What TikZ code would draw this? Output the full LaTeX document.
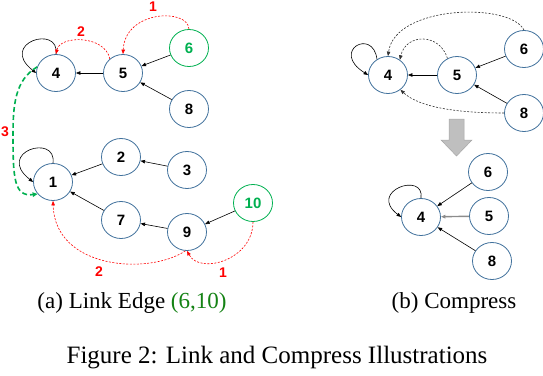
\documentclass[tikz,border=0pt]{standalone}
\usepackage{fontspec}
\setmainfont{Liberation Serif}
\newfontfamily\arialf{Liberation Sans}
\usetikzlibrary{shapes.geometric,arrows.meta}
\definecolor{nodeblue}{RGB}{65,113,156}
\definecolor{ngreen}{RGB}{0,176,80}
\definecolor{cgreen}{RGB}{20,130,20}
\definecolor{ared}{RGB}{255,0,0}
\definecolor{blockgray}{RGB}{191,191,191}
\definecolor{blockedge}{RGB}{166,166,166}
\begin{document}
\begin{tikzpicture}[x=1pt,y=-1pt,
 vert/.style={ellipse, draw=nodeblue, line width=0.8pt, minimum width=39pt, minimum height=37pt, inner sep=0pt, font=\arialf\bfseries\fontsize{15}{15}\selectfont},
 gvert/.style={vert, draw=ngreen, text=ngreen},
 arr/.style={-{Triangle[length=4.5pt,width=3.5pt]}, line width=0.6pt, black},
 rdash/.style={-{Triangle[length=4.5pt,width=3.5pt]}, line width=0.6pt, ared, dash pattern=on 2pt off 1.5pt},
 bdash/.style={-{Triangle[length=4.5pt,width=3.5pt]}, line width=0.6pt, black!80, dash pattern=on 2pt off 1.5pt},
 gdash/.style={-{Triangle[length=5pt,width=4.5pt]}, line width=1.6pt, ngreen, dash pattern=on 5pt off 3pt},
 lab/.style={text=ared, font=\arialf\bfseries\fontsize{14}{14}\selectfont},
 subcap/.style={font=\fontsize{23}{23}\selectfont},
 figcap/.style={font=\fontsize{25}{25}\selectfont}
]
\useasboundingbox (0,0) rectangle (543,375);

% ---------- (a) upper ----------
\node[vert]  (a4) at (56,73) {4};
\node[vert]  (a5) at (123,73) {5};
\node[gvert] (a6) at (189,48) {6};
\node[vert]  (a8) at (189,109) {8};
% ---------- (a) lower ----------
\node[vert]  (a1) at (53,182) {1};
\node[vert]  (a2) at (121,157) {2};
\node[vert]  (a3) at (187,170) {3};
\node[vert]  (a7) at (121,220) {7};
\node[vert]  (a9) at (187,232) {9};
\node[gvert] (a10) at (253,203) {10};

\draw[arr] (a5) -- (a4);
\draw[arr] (a6) -- (a5);
\draw[arr] (a8) -- (a5);
\draw[arr] (a2) -- (a1);
\draw[arr] (a3) -- (a2);
\draw[arr] (a7) -- (a1);
\draw[arr] (a9) -- (a7);
\draw[arr] (a10) -- (a9);

\draw[arr] (a4.north) .. controls +(4,-30) and +(-38,-30) .. (a4.west);
\draw[arr] (a1.north) .. controls +(4,-30) and +(-38,-30) .. (a1.west);

\draw[rdash] (a6.north) .. controls (188,8) and (125,10) .. (a5.north);
\node[lab] (l1a) at (153,7) {1};
\draw[rdash] (a5.133) .. controls (105,35) and (60,35) .. (a4.north);
\node[lab] (l2a) at (81,32) {2};

\draw[gdash] (a4.162) .. controls (15,80) and (13,105) .. (13,135)
   .. controls (13,178) and (14,197) .. (a1.218);
\node[lab] (l3a) at (5,132) {3};

\draw[rdash] (a10.south) .. controls (253,260) and (200,275) .. (a9.south);
\node[lab] (l1b) at (223,273) {1};
\draw[rdash] (a9.265) .. controls (150,275) and (55,270) .. (a1.south);
\node[lab] (l2b) at (99,272) {2};

% ---------- (b) upper ----------
\node[vert] (b4) at (388,75) {4};
\node[vert] (b5) at (457,75) {5};
\node[vert] (b6) at (524,49) {6};
\node[vert] (b8) at (524,113) {8};

\draw[arr] (b5) -- (b4);
\draw[arr] (b6) -- (b5);
\draw[arr] (b8) -- (b5);
\draw[arr] (b4.125) .. controls +(-4,-32) and +(-38,-24) .. (b4.west);
\draw[bdash] (b6.north) .. controls (510,2) and (395,5) .. (b4.north);
\draw[bdash] (b5.120) .. controls (440,33) and (406,33) .. (b4.52);
\draw[bdash] (b8.west) .. controls (460,113) and (420,108) .. (b4.-50);

% block arrow
\filldraw[fill=blockgray, draw=blockedge, line width=0.5pt]
  (449,119) -- (464,119) -- (464,140) -- (472,140) -- (456.5,156) -- (441,140) -- (449,140) -- cycle;

% ---------- (b) lower ----------
\node[vert] (c4) at (421,217) {4};
\node[vert] (c6) at (488,172) {6};
\node[vert] (c5) at (489,216) {5};
\node[vert] (c8) at (492,261) {8};
\draw[arr] (c6) -- (c4);
\draw[arr, draw=black!45, line width=1.4pt] (c5) -- (c4);
\draw[arr] (c8) -- (c4);
\draw[arr] (c4.north) .. controls +(4,-27) and +(-34,-26) .. (c4.west);

% ---------- captions ----------
\node[subcap] (capa) at (132,303) {(a) Link Edge \textcolor{cgreen}{(6,10)}};
\node[subcap] (capb) at (454,303) {(b) Compress};
\node[figcap] (capf) at (277,358) {Figure 2: Link and Compress Illustrations};
\end{tikzpicture}
\end{document}
